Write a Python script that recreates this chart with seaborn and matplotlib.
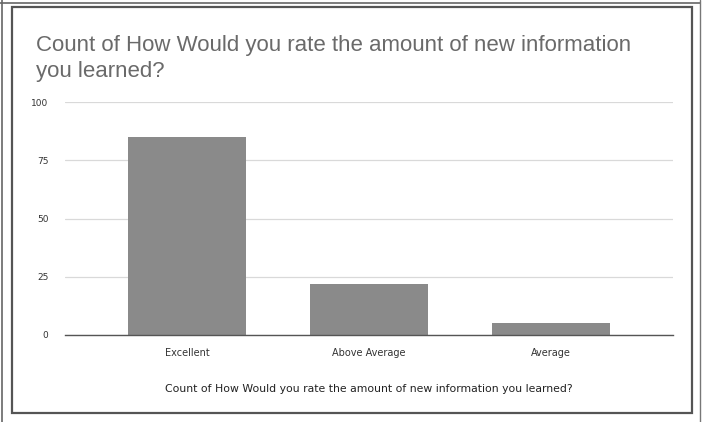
import matplotlib
matplotlib.use("Agg")
import matplotlib.pyplot as plt
import seaborn as sns
import pandas as pd
from matplotlib.patches import Rectangle
from matplotlib.lines import Line2D

# Survey responses
ratings = ["Excellent", "Above Average", "Average"]
counts = [85, 22, 5]
y_ticks = [0, 25, 50, 75, 100]

title = "Count of How Would you rate the amount of new information\nyou learned?"
x_label = "Count of How Would you rate the amount of new information you learned?"

sns.set_theme(style="white")
plt.rcParams["font.family"] = ["Liberation Sans", "DejaVu Sans"]

df = pd.DataFrame({"rating": ratings, "count": counts})

fig = plt.figure(figsize=(7.14, 4.22), dpi=100)
fig.patch.set_facecolor("white")
ax = fig.add_axes([65 / 714, 1 - 335 / 422, 608 / 714, 233 / 422])

sns.barplot(data=df, x="rating", y="count", order=ratings, color="#8a8a8a",
            width=0.65, saturation=1, edgecolor="none", ax=ax)

ax.set_ylim(0, 100)
ax.set_xlim(-0.67, 2.67)
ax.set_yticks(y_ticks)
ax.set_yticklabels([str(v) for v in y_ticks], family="DejaVu Sans")
ax.set_xticks(range(len(ratings)))
ax.set_xticklabels(ratings, family="DejaVu Sans")
ax.yaxis.grid(True, color="#d9d9d9", linewidth=0.9)
ax.set_axisbelow(True)
for s in ["top", "right", "left"]:
    ax.spines[s].set_visible(False)
ax.spines["bottom"].set_color("#555555")
ax.spines["bottom"].set_linewidth(1.0)
ax.tick_params(axis="y", length=0, labelsize=6.5, colors="#333333", pad=12)
ax.tick_params(axis="x", length=0, labelsize=7, colors="#333333", pad=9)
ax.set_ylabel("")
ax.set_xlabel(x_label, fontsize=7.8, color="#222222", labelpad=19,
              family="DejaVu Sans")

fig.text(36 / 714, 1 - 35 / 422, title, fontsize=16, color="#6a6a6a",
         ha="left", va="top", linespacing=1.3)

# Card border and page edges
fig.patches.append(Rectangle((12 / 714, 1 - 413 / 422), 680 / 714, 406 / 422,
                             transform=fig.transFigure, fill=False,
                             edgecolor="#555555", linewidth=1.6))
fig.lines.append(Line2D([2 / 714, 2 / 714], [0, 1], transform=fig.transFigure,
                        color="#666666", linewidth=1.2))
fig.lines.append(Line2D([0, 700 / 714], [1 - 3 / 422, 1 - 3 / 422],
                        transform=fig.transFigure, color="#666666", linewidth=1.2))
fig.lines.append(Line2D([700 / 714, 700 / 714], [0, 1], transform=fig.transFigure,
                        color="#777777", linewidth=1.0))

fig.savefig("out.png", dpi=100)
